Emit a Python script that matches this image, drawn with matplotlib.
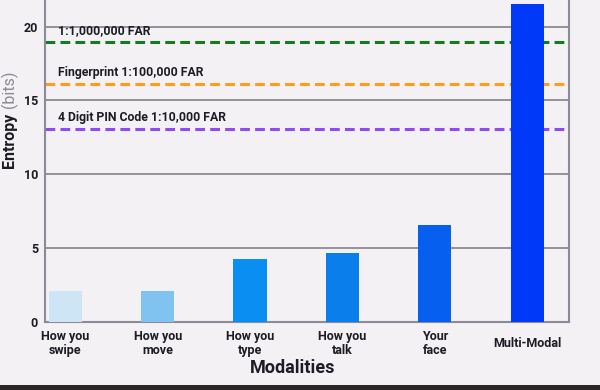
import matplotlib.pyplot as plt
from matplotlib.transforms import blended_transform_factory
from matplotlib.patches import Rectangle

# data
modalities = ["How you\nswipe", "How you\nmove", "How you\ntype",
              "How you\ntalk", "Your\nface", "Multi-Modal"]
entropy = [2.1, 2.1, 4.3, 4.7, 6.6, 21.5]
bar_colors = ["#cde5f5", "#80c2f0", "#0a8ef2", "#0a7fec", "#075ff0", "#0039f8"]

thresh_labels = ["1:1,000,000 FAR", "Fingerprint 1:100,000 FAR",
                 "4 Digit PIN Code 1:10,000 FAR"]
thresh_values = [18.95, 16.1, 13.05]
thresh_colors = ["#167a1e", "#ff9c1e", "#8c4cf2"]

yticks = [0, 5, 10, 15, 20]

plt.rcParams['font.family'] = ['Roboto', 'DejaVu Sans']
bg = "#f3f1f4"
txt = "#1c1c24"

fig = plt.figure(figsize=(6, 3.9), dpi=100, facecolor=bg)
ax = fig.add_axes([0.075, 0.174, 0.873, 0.826], facecolor=bg)

x = list(range(len(modalities)))
ax.set_ylim(0, 21.8)
ax.set_xlim(-0.22, 5.45)

for v in yticks[1:]:
    ax.axhline(v, color="#8c8a90", lw=1.3, zorder=1)

ax.bar(x, entropy, width=0.36, color=bar_colors, zorder=3)

for lab, v, c in zip(thresh_labels, thresh_values, thresh_colors):
    ax.axhline(v, color=c, lw=2.2, linestyle=(0, (3.2, 1.7)), zorder=2)
    ax.text(0.025, v + 0.35, lab, transform=blended_transform_factory(ax.transAxes, ax.transData),
            fontsize=8.8, fontweight="bold", color=txt, va="bottom", ha="left", zorder=4)

ax.spines["top"].set_visible(False)
for s in ["left", "right", "bottom"]:
    ax.spines[s].set_color("#8c8a96")
    ax.spines[s].set_linewidth(1.5)

ax.set_yticks(yticks)
ax.set_yticklabels([str(t) for t in yticks], fontsize=9, fontweight="bold", color=txt)
ax.tick_params(axis="y", length=0, pad=5)
ax.set_xticks(x)
ax.set_xticklabels([""] * len(x))
ax.tick_params(axis="x", length=0)

tr = blended_transform_factory(ax.transData, ax.transAxes)
for xi, lab in zip(x, modalities):
    ax.text(xi, -0.066, lab, transform=tr, ha="center", va="center",
            fontsize=9, fontweight="bold", color=txt, linespacing=1.15)

fig.text(0.488, 0.057, "Modalities", ha="center", va="center",
         fontsize=13, fontweight="bold", color=txt)
fig.text(0.016, 0.64, "Entropy", rotation=90, ha="center", va="center",
         fontsize=11.5, fontweight="bold", color=txt)
fig.text(0.016, 0.77, "(bits)", rotation=90, ha="center", va="center",
         fontsize=11.5, color="#8a8a92")

# dark screen edge at the bottom of the photo
fig.patches.append(Rectangle((0, 0), 1, 0.012, transform=fig.transFigure,
                             facecolor="#2a2628", edgecolor="none"))

fig.savefig("out.png", dpi=100, facecolor=bg)
